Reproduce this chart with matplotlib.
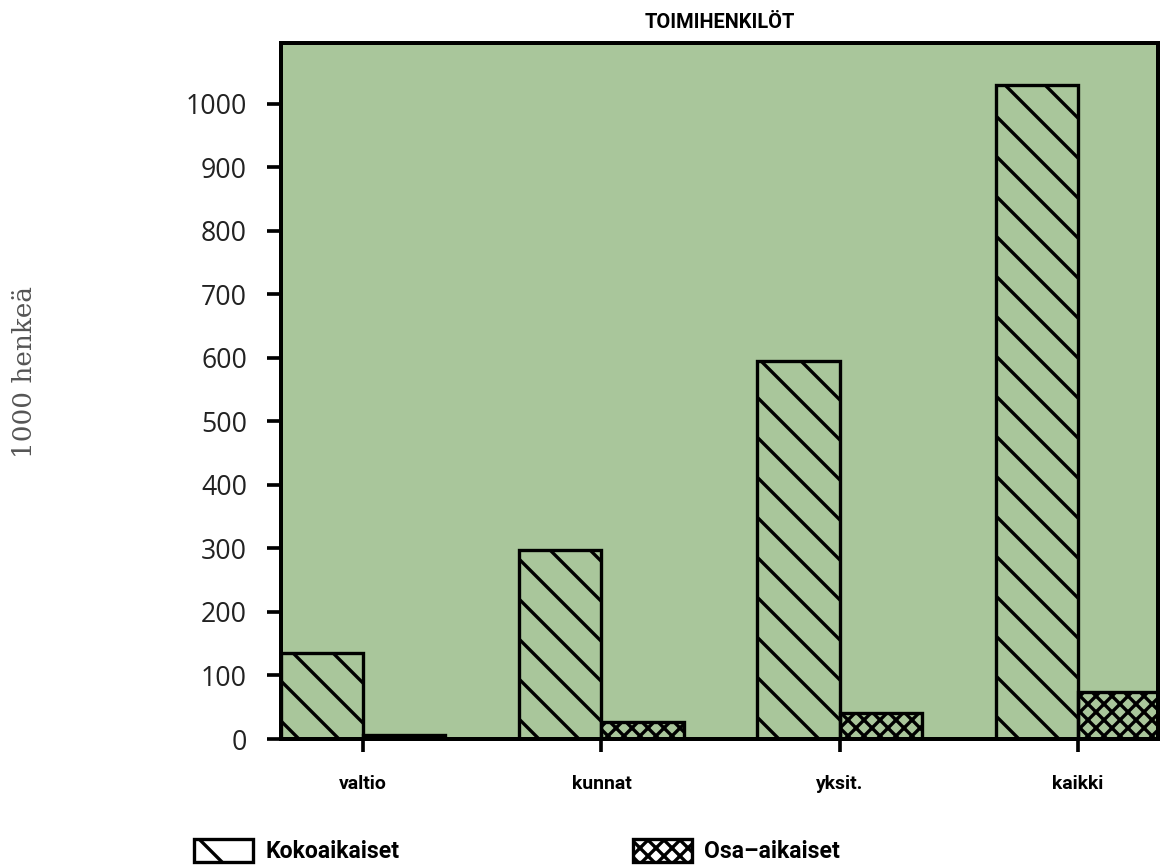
import matplotlib
matplotlib.use("Agg")
import matplotlib.pyplot as plt
from matplotlib.patches import Patch
import numpy as np

categories = ["valtio", "kunnat", "yksit.", "kaikki"]
kokoaikaiset = [136, 297, 596, 1030]
osa_aikaiset = [6, 27, 41, 74]
yticks = [0, 100, 200, 300, 400, 500, 600, 700, 800, 900, 1000]
series_names = ["Kokoaikaiset", "Osa\u2013aikaiset"]
title = "TOIMIHENKILÖT"
ylabel = "1000 henkeä"

DPI = 240
W, H = 1161, 867
plt.rcParams['hatch.linewidth'] = 1.0
plt.rcParams['hatch.color'] = 'black'

bold_font = ['Roboto', 'DejaVu Sans']
green = '#a9c69b'
HATCH_KOKO = '\\\\'
HATCH_OSA = 'xxxxx'

fig = plt.figure(figsize=(W / DPI, H / DPI), dpi=DPI)
ax = fig.add_axes([281 / W, 1 - 739 / H, (1158 - 281) / W, (739 - 43) / H])
ax.set_facecolor(green)

x = np.arange(len(categories))
w = 0.345
ax.bar(x - w / 2, kokoaikaiset, width=w, facecolor='none', edgecolor='black',
       linewidth=1.0, hatch=HATCH_KOKO, zorder=3)
ax.bar(x + w / 2, osa_aikaiset, width=w, facecolor='none', edgecolor='black',
       linewidth=1.0, hatch=HATCH_OSA, zorder=3)

ax.set_xlim(-w, 3 + 80 / 238)
ax.set_ylim(0, 1096)
ax.set_yticks(yticks)
ax.set_yticklabels([str(v) for v in yticks], fontfamily='Open Sans', fontsize=8.0,
                   color='#222222')
ax.set_xticks(x)
ax.set_xticklabels(categories, fontfamily=bold_font, fontweight='bold', fontsize=5.8)
ax.tick_params(axis='y', length=4.2, width=1.1, pad=6, direction='out')
ax.tick_params(axis='x', length=3.9, width=1.1, pad=7, direction='out')
for s in ax.spines.values():
    s.set_linewidth(1.2)
    s.set_color('black')

fig.text((281 + 1158) / 2 / W, 1 - 22 / H, title, ha='center', va='center',
         fontfamily=bold_font, fontweight='bold', fontsize=6.0)
fig.text(25 / W, 1 - 372 / H, ylabel, rotation=90, ha='center', va='center',
         fontfamily='DejaVu Serif', fontsize=7.9, color='#555555')

h1 = Patch(facecolor='white', edgecolor='black', hatch='\\', linewidth=1.0)
h2 = Patch(facecolor='white', edgecolor='black', hatch=HATCH_OSA, linewidth=1.0)
lfs = 6.9
for h, name, xl in [(h1, series_names[0], 194), (h2, series_names[1], 633)]:
    leg = fig.legend(handles=[h], labels=[name], loc='center left',
                     bbox_to_anchor=(xl / W, 1 - 851 / H), frameon=False,
                     borderpad=0, borderaxespad=0, handlelength=2.55,
                     handleheight=1.2, handletextpad=0.55,
                     prop={'family': bold_font, 'weight': 'bold', 'size': lfs})

fig.savefig("out.png", dpi=DPI)
